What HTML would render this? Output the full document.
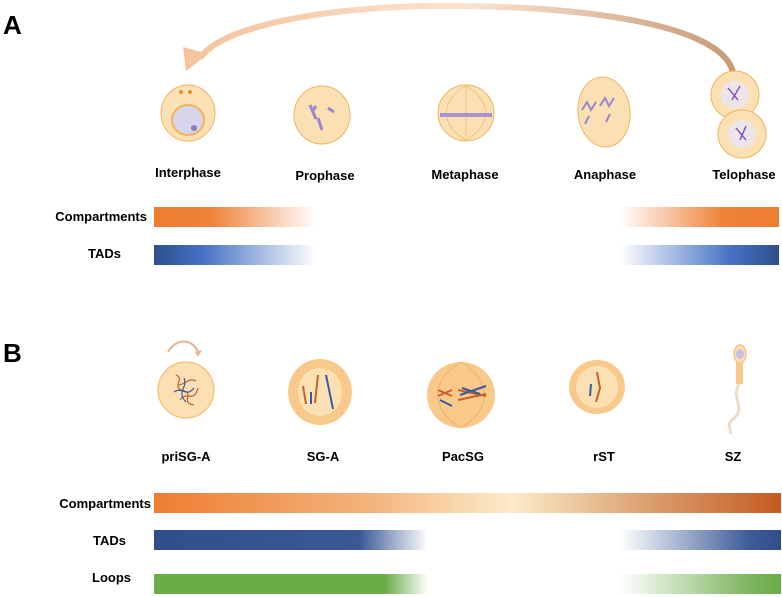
<!DOCTYPE html>
<html><head><meta charset="utf-8"><style>
html,body{margin:0;padding:0;background:#fff;}
svg{display:block;}
text{font-family:"Liberation Sans",Arial,sans-serif;font-weight:bold;fill:#000;}
</style></head><body>
<svg width="782" height="597" viewBox="0 0 782 597" xmlns="http://www.w3.org/2000/svg">
<defs>
<linearGradient id="arrowG" x1="0" x2="1" y1="0" y2="0">
<stop offset="0" stop-color="#f6c39c"/><stop offset="0.5" stop-color="#fbe3d0"/><stop offset="1" stop-color="#c89a76"/></linearGradient>
<linearGradient id="cL" x1="0" x2="1"><stop offset="0" stop-color="#ed7d31"/><stop offset="0.35" stop-color="#ee8239"/><stop offset="1" stop-color="#fff" stop-opacity="1"/></linearGradient>
<linearGradient id="cR" x1="1" x2="0"><stop offset="0" stop-color="#ed7d31"/><stop offset="0.35" stop-color="#ee8239"/><stop offset="1" stop-color="#fff"/></linearGradient>
<linearGradient id="tL" x1="0" x2="1"><stop offset="0" stop-color="#2e4f8c"/><stop offset="0.3" stop-color="#4472c4"/><stop offset="1" stop-color="#fff"/></linearGradient>
<linearGradient id="tR" x1="1" x2="0"><stop offset="0" stop-color="#2e4f8c"/><stop offset="0.3" stop-color="#4472c4"/><stop offset="1" stop-color="#fff"/></linearGradient>
<linearGradient id="bC" x1="0" x2="1"><stop offset="0" stop-color="#ee7d31"/><stop offset="0.35" stop-color="#f3b57e"/><stop offset="0.57" stop-color="#fdebc9"/><stop offset="0.78" stop-color="#dca272"/><stop offset="1" stop-color="#c55a22"/></linearGradient>
<linearGradient id="bT" x1="0" x2="1"><stop offset="0" stop-color="#2f4f8b"/><stop offset="0.75" stop-color="#3a5a96"/><stop offset="1" stop-color="#fff"/></linearGradient>
<linearGradient id="bTR" x1="1" x2="0"><stop offset="0" stop-color="#2f4f8b"/><stop offset="0.2" stop-color="#3e5c98"/><stop offset="1" stop-color="#fff"/></linearGradient>
<linearGradient id="bL" x1="0" x2="1"><stop offset="0" stop-color="#6aac45"/><stop offset="0.84" stop-color="#6aac45"/><stop offset="1" stop-color="#fff"/></linearGradient>
<linearGradient id="bLR" x1="1" x2="0"><stop offset="0" stop-color="#6aac45"/><stop offset="0.2" stop-color="#7db660"/><stop offset="1" stop-color="#fff"/></linearGradient>
</defs>

<text x="3" y="34" font-size="26">A</text>
<!-- big arrow -->
<path d="M733 72 C 720 20, 560 4, 420 6 C 300 10, 220 30, 200 58" fill="none" stroke="url(#arrowG)" stroke-width="6"/>
<polygon points="186,71 183,47 208,54" fill="#f6c39c"/>

<!-- Interphase -->
<ellipse cx="188" cy="113" rx="27" ry="28" fill="#fbe0b4" stroke="#f3b35d" stroke-width="1"/>
<ellipse cx="188" cy="120" rx="16" ry="15" fill="#d8d4ec" stroke="#f3b35d" stroke-width="2"/>
<circle cx="194" cy="128" r="3" fill="#8a7cc0"/>
<circle cx="181" cy="92" r="2" fill="#e0902a"/><circle cx="190" cy="92" r="2" fill="#e0902a"/>
<!-- Prophase -->
<ellipse cx="322" cy="115" rx="28" ry="29" fill="#fbe0b4" stroke="#f3b35d"/>
<path d="M310 105 l6 14 M318 118 l4 12 M328 108 l6 4 M312 112 l4 -6" stroke="#9b88cc" stroke-width="3"/>
<!-- Metaphase -->
<ellipse cx="466" cy="113" rx="28" ry="28" fill="#fbe0b4" stroke="#f3b35d"/>
<path d="M466 86 C440 100,440 126,466 140 M466 86 C492 100,492 126,466 140 M466 86 L466 140" stroke="#f0b86a" fill="none" stroke-width="0.7"/>
<rect x="440" y="113" width="52" height="4" fill="#a594d4"/>
<!-- Anaphase -->
<ellipse cx="604" cy="112" rx="26" ry="35" fill="#fbe0b4" stroke="#f3b35d" transform="rotate(-6 604 112)"/>
<path d="M582 110 l5 -8 l4 8 l5 -8 M600 106 l5 -8 l4 8 l5 -8 M585 124 l4 -8 M606 122 l4 -8" stroke="#9b88cc" stroke-width="2" fill="none"/>
<!-- Telophase -->
<circle cx="735" cy="95" r="24" fill="#fbe0b4" stroke="#f3b35d"/>
<circle cx="742" cy="134" r="24" fill="#fbe0b4" stroke="#f3b35d"/>
<circle cx="735" cy="95" r="14" fill="#ece5ea"/>
<circle cx="742" cy="134" r="14" fill="#ece5ea"/>
<path d="M728 88 l10 12 M732 100 l8 -14 M736 128 l10 12 M740 140 l6 -14" stroke="#8b55b8" stroke-width="1.5"/>

<g font-size="13" text-anchor="middle">
<text x="188" y="177">Interphase</text>
<text x="325" y="180">Prophase</text>
<text x="465" y="179">Metaphase</text>
<text x="605" y="179">Anaphase</text>
<text x="744" y="179">Telophase</text>
</g>
<g font-size="13" text-anchor="end">
<text x="147" y="221">Compartments</text>
<text x="121" y="258">TADs</text>
</g>
<rect x="154" y="207" width="162" height="20" fill="url(#cL)"/>
<rect x="620" y="207" width="159" height="20" fill="url(#cR)"/>
<rect x="154" y="245" width="162" height="20" fill="url(#tL)"/>
<rect x="620" y="245" width="159" height="20" fill="url(#tR)"/>

<text x="3" y="362" font-size="26">B</text>
<path d="M168 352 C176 338,192 338,198 352" fill="none" stroke="#e5b592" stroke-width="2"/>
<polygon points="195,352 202,350 198,357" fill="#e5b592"/>
<!-- priSG-A -->
<ellipse cx="186" cy="390" rx="28" ry="28" fill="#fbe0b4" stroke="#f3b35d"/>
<path d="M176 375 c10 4 -6 12 8 16 c10 2 -4 12 10 14 M180 400 c6 -10 14 4 18 -12 M178 385 c8 0 10 -8 18 -4" stroke="#c8612a" fill="none" stroke-width="1.2"/>
<path d="M174 392 c8 -6 12 6 20 -4 M184 378 c4 10 -8 14 2 24" stroke="#3a5aa0" fill="none" stroke-width="1.2"/>
<!-- SG-A -->
<ellipse cx="320" cy="392" rx="32" ry="33" fill="#f8c98a"/>
<ellipse cx="320" cy="392" rx="22" ry="24" fill="#fbe0b4"/>
<path d="M303 386 l3 18 M318 375 l-3 28" stroke="#c8612a" stroke-width="2"/>
<path d="M311 392 l0 12 M326 375 l7 34" stroke="#3a5aa0" stroke-width="2"/>
<!-- PacSG -->
<ellipse cx="461" cy="395" rx="34" ry="33" fill="#f8c98a"/>
<path d="M461 362 C430 380,430 410,461 428 M461 362 C492 380,492 410,461 428" stroke="#f3a85a" fill="none" stroke-width="0.7"/>
<path d="M438 390 l14 6 M438 396 l14 -6 M458 390 l28 6 M458 400 l28 -6" stroke="#c8612a" stroke-width="2"/>
<path d="M440 400 l12 6 M460 395 l26 -9 M462 388 l18 6" stroke="#3a5aa0" stroke-width="2"/>
<!-- rST -->
<ellipse cx="597" cy="387" rx="28" ry="27" fill="#f8c98a"/>
<ellipse cx="597" cy="387" rx="21" ry="21" fill="#fbe0b4"/>
<path d="M597 372 l3 16 l-4 14" stroke="#c8612a" stroke-width="2" fill="none"/>
<path d="M591 384 l-1 12" stroke="#3a5aa0" stroke-width="2"/>
<!-- SZ -->
<ellipse cx="740" cy="354" rx="6" ry="9" fill="#fbe0b4" stroke="#f3b35d"/>
<ellipse cx="740" cy="354" rx="4" ry="5" fill="#c8c0e4"/>
<rect x="736" y="362" width="7" height="22" fill="#f8c98a"/>
<path d="M739 384 C730 400,748 408,732 420 C726 426,732 430,730 434" stroke="#eddccc" stroke-width="3" fill="none"/>

<g font-size="13" text-anchor="middle">
<text x="186" y="461">priSG-A</text>
<text x="323" y="461">SG-A</text>
<text x="463" y="461">PacSG</text>
<text x="604" y="461">rST</text>
<text x="733" y="461">SZ</text>
</g>
<g font-size="13" text-anchor="end">
<text x="151" y="508">Compartments</text>
<text x="126" y="545">TADs</text>
<text x="131" y="582">Loops</text>
</g>
<rect x="154" y="493" width="627" height="20" fill="url(#bC)"/>
<rect x="154" y="530" width="274" height="20" fill="url(#bT)"/>
<rect x="620" y="530" width="161" height="20" fill="url(#bTR)"/>
<rect x="154" y="574" width="274" height="20" fill="url(#bL)"/>
<rect x="620" y="574" width="161" height="20" fill="url(#bLR)"/>
</svg>
</body></html>
